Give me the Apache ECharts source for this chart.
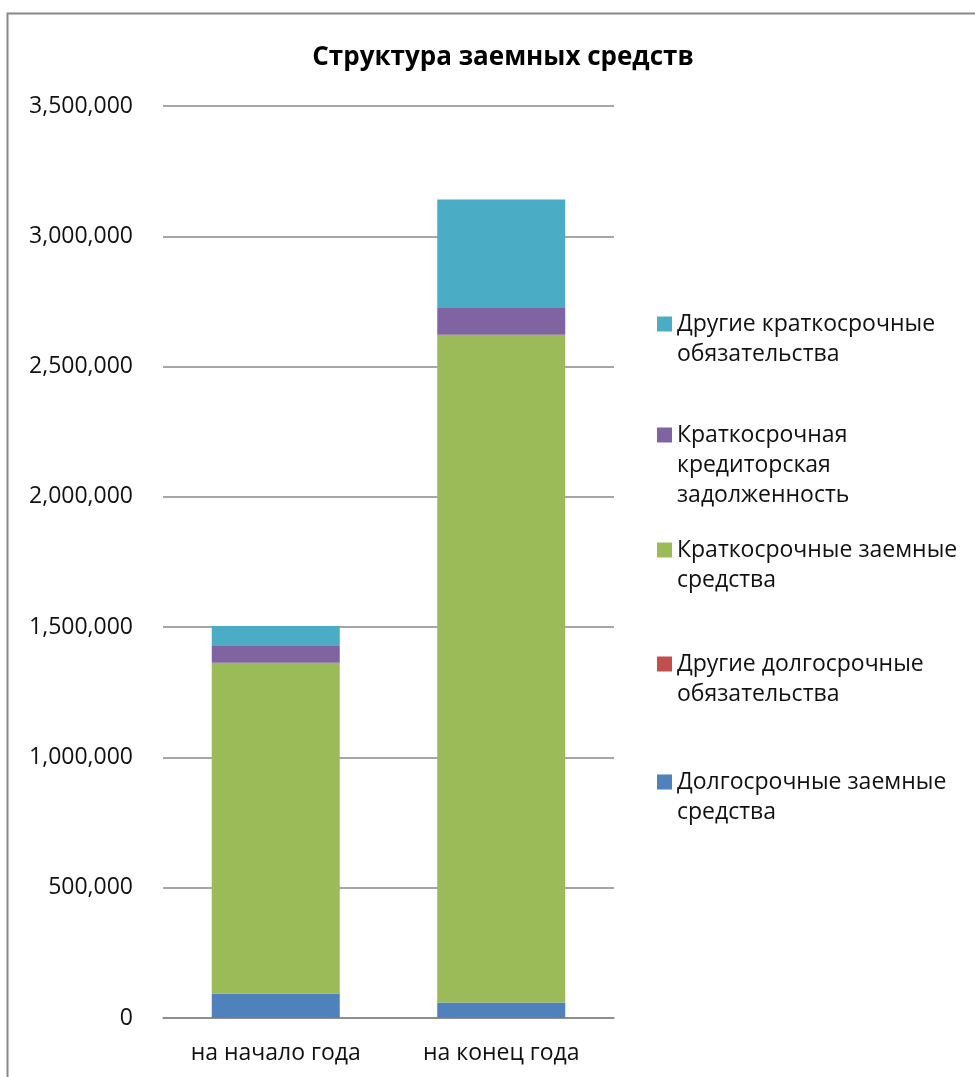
<!DOCTYPE html>
<html>
<head>
<meta charset="utf-8">
<script src="https://cdn.jsdelivr.net/npm/echarts@6/dist/echarts.min.js"></script>
<style>
  html, body { margin: 0; padding: 0; background: #fff; }
  #chart { width: 975px; height: 1077px; }
</style>
</head>
<body>
<div id="chart"></div>
<script>
// Периоды и структура заемных средств (руб.)
const categories = ['на начало года', 'на конец года'];
const longTermLoans = [93700, 59200];          // Долгосрочные заемные средства
const otherLongTerm = [0, 0];                  // Другие долгосрочные обязательства
const shortTermLoans = [1269900, 2563100];     // Краткосрочные заемные средства
const shortTermPayables = [64100, 102700];     // Краткосрочная кредиторская задолженность
const otherShortTerm = [76900, 416000];        // Другие краткосрочные обязательства
const yTicks = [0, 500000, 1000000, 1500000, 2000000, 2500000, 3000000, 3500000];

// iconY: vertical centre of the legend swatch
const seriesDefs = [
  { name: 'Долгосрочные заемные средства', label: 'Долгосрочные заемные\nсредства', data: longTermLoans, color: '#4F81BD', iconY: 782, lines: 2 },
  { name: 'Другие долгосрочные обязательства', label: 'Другие долгосрочные\nобязательства', data: otherLongTerm, color: '#C0504D', iconY: 664, lines: 2 },
  { name: 'Краткосрочные заемные средства', label: 'Краткосрочные заемные\nсредства', data: shortTermLoans, color: '#9BBB59', iconY: 550, lines: 2 },
  { name: 'Краткосрочная кредиторская задолженность', label: 'Краткосрочная\nкредиторская\nзадолженность', data: shortTermPayables, color: '#8064A2', iconY: 435, lines: 3 },
  { name: 'Другие краткосрочные обязательства', label: 'Другие краткосрочные\nобязательства', data: otherShortTerm, color: '#4BACC6', iconY: 324, lines: 2 }
];

const FONT = '"Open Sans", "Noto Sans", sans-serif';
const LINE_H = 30;

const chart = echarts.init(document.getElementById('chart'), null, { renderer: 'canvas' });

// legend text is centred on the swatch, so blank lines are put above the label
// to keep the swatch level with its first line
const legendText = {};
seriesDefs.forEach(s => { legendText[s.name] = '\n'.repeat(s.lines - 1) + s.label; });

const legends = seriesDefs.map(s => ({
  data: [s.name],
  orient: 'vertical',
  left: 657,
  top: s.iconY - (s.lines - 1) * LINE_H - LINE_H / 2,
  padding: 0,
  itemWidth: 15,
  itemHeight: 15,
  icon: 'rect',
  selectedMode: false,
  formatter: name => legendText[name],
  textStyle: {
    fontFamily: FONT,
    fontSize: 23,
    color: '#111',
    lineHeight: LINE_H
  }
}));

chart.setOption({
  animation: false,
  backgroundColor: '#fff',
  title: {
    text: 'Структура заемных средств',
    left: 498,
    textAlign: 'center',
    top: 40,
    textStyle: { fontFamily: FONT, fontSize: 26, fontWeight: 'bold', color: '#000' }
  },
  graphic: [{
    type: 'rect',
    shape: { x: 7.5, y: 13.5, width: 1000, height: 1100 },
    style: { fill: 'none', stroke: '#888', lineWidth: 2 },
    silent: true,
    z: -1
  }],
  legend: legends,
  grid: { left: 163, right: 361, top: 106, bottom: 59, containLabel: false },
  xAxis: {
    type: 'category',
    data: categories,
    axisTick: { show: false },
    axisLine: { lineStyle: { color: '#888', width: 1.5 } },
    axisLabel: { fontFamily: FONT, fontSize: 23, color: '#111', margin: 24 }
  },
  yAxis: {
    type: 'value',
    min: yTicks[0],
    max: yTicks[yTicks.length - 1],
    interval: yTicks[1] - yTicks[0],
    axisLine: { show: false },
    axisTick: { show: false },
    splitLine: { lineStyle: { color: '#888', width: 1.5 } },
    axisLabel: {
      fontFamily: FONT, fontSize: 23, color: '#111', margin: 30,
      formatter: v => v.toLocaleString('en-US')
    }
  },
  series: seriesDefs.map(s => ({
    name: s.name,
    type: 'bar',
    stack: 'total',
    data: s.data,
    barWidth: 128,
    itemStyle: { color: s.color }
  }))
});
</script>
</body>
</html>
